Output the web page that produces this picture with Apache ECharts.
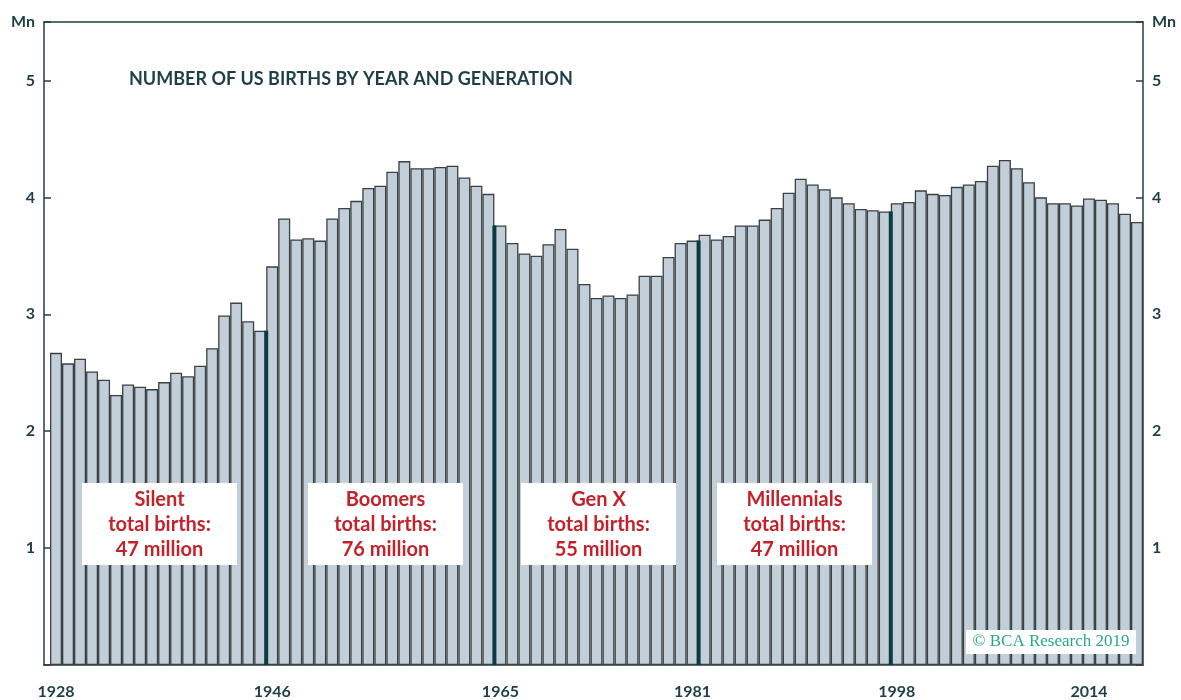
<!DOCTYPE html>
<html>
<head>
<meta charset="utf-8">
<script src="https://cdn.jsdelivr.net/npm/echarts@6/dist/echarts.min.js"></script>
<style>
  html, body { margin: 0; padding: 0; background: #fff; }
  #main { width: 1181px; height: 700px; }
</style>
</head>
<body>
<div id="main"></div>
<script>
// US births, millions, 1928-2018
var years = [];
for (var y = 1928; y <= 2018; y++) { years.push(y); }
var births = [
  2.67, 2.58, 2.62, 2.51, 2.44, 2.31, 2.40, 2.38, 2.36, 2.42,
  2.50, 2.47, 2.56, 2.71, 2.99, 3.10, 2.94, 2.86, 3.41, 3.82,
  3.64, 3.65, 3.63, 3.82, 3.91, 3.97, 4.08, 4.10, 4.22, 4.31,
  4.25, 4.25, 4.26, 4.27, 4.17, 4.10, 4.03, 3.76, 3.61, 3.52,
  3.50, 3.60, 3.73, 3.56, 3.26, 3.14, 3.16, 3.14, 3.17, 3.33,
  3.33, 3.49, 3.61, 3.63, 3.68, 3.64, 3.67, 3.76, 3.76, 3.81,
  3.91, 4.04, 4.16, 4.11, 4.07, 4.00, 3.95, 3.90, 3.89, 3.88,
  3.95, 3.96, 4.06, 4.03, 4.02, 4.09, 4.11, 4.14, 4.27, 4.32,
  4.25, 4.13, 4.00, 3.95, 3.95, 3.93, 3.99, 3.98, 3.95, 3.86,
  3.79
];
var labelYears = [1928, 1946, 1965, 1981, 1998, 2014];
// first year of the bar to the right of each generation divider
var dividerYears = [1946, 1965, 1982, 1998];
var boxTexts = [
  'Silent\ntotal births:\n47 million',
  'Boomers\ntotal births:\n76 million',
  'Gen X\ntotal births:\n55 million',
  'Millennials\ntotal births:\n47 million'
];

var ink = '#1f3f47';
var textFont = 'Lato, "Open Sans", sans-serif';

function birthsOf(yr) { return births[years.indexOf(yr)]; }

var dividers = dividerYears.map(function (yr) {
  return [yr - 0.5, Math.min(birthsOf(yr - 1), birthsOf(yr))];
});

var myChart = echarts.init(document.getElementById('main'));

var boxCenters = [159, 385, 598, 794];
var graphics = [{
  type: 'text', left: 129, top: 70, silent: true, z: 100,
  style: { text: 'NUMBER OF US BIRTHS BY YEAR AND GENERATION', fill: ink,
    font: 'bold 18px ' + textFont }
}];
boxTexts.forEach(function (t, i) {
  graphics.push({
    type: 'group', x: boxCenters[i] - 77, y: 483, silent: true, z: 100,
    children: [
      { type: 'rect', z: 100, shape: { x: 0, y: 0, width: 155, height: 82 }, style: { fill: '#fff' } },
      { type: 'text', z: 101, x: 77.5, y: 42,
        style: { text: t, fill: '#c4222b', font: 'bold 20px ' + textFont,
          align: 'center', verticalAlign: 'middle', lineHeight: 25 } }
    ]
  });
});
graphics.push({
  type: 'group', x: 966, y: 630, silent: true, z: 100,
  children: [
    { type: 'rect', z: 100, shape: { x: 0, y: 0, width: 170, height: 24 }, style: { fill: '#fff' } },
    { type: 'text', z: 101, x: 85, y: 12,
      style: { text: '\u00a9 BCA Research 2019', fill: '#2aa784',
        font: '17px "Liberation Serif", "DejaVu Serif", serif',
        align: 'center', verticalAlign: 'middle' } }
  ]
});

var yAxisBase = function (pos) {
  return {
    type: 'value', position: pos, min: 0, max: 5.5, interval: 1,
    axisLine: { show: true, lineStyle: { color: ink, width: 1.5 } },
    axisTick: { show: true, inside: true, length: 7, lineStyle: { color: ink, width: 1.5 } },
    splitLine: { show: false },
    axisLabel: {
      show: true, margin: 9, showMaxLabel: true, showMinLabel: true,
      color: ink, fontFamily: textFont, fontWeight: 'bold', fontSize: 16,
      formatter: function (v) {
        if (v === 0) return '';
        if (v === 5.5) return 'Mn';
        return v;
      }
    }
  };
};

var option = {
  animation: false,
  backgroundColor: '#fff',
  grid: { left: 44, right: 38, top: 22, bottom: 35, containLabel: false },
  graphic: graphics,
  xAxis: [{
    type: 'value', min: 1927, max: 2018.5, interval: 1,
    axisLine: { show: true, onZero: false, lineStyle: { color: ink, width: 1.5 } },
    axisTick: { show: false },
    splitLine: { show: false },
    axisLabel: {
      margin: 19, color: ink, fontFamily: textFont, fontWeight: 'bold', fontSize: 16,
      showMinLabel: true, showMaxLabel: true,
      formatter: function (v) { return labelYears.indexOf(v) >= 0 ? String(v) : ''; }
    }
  }, {
    type: 'value', position: 'top', min: 1927, max: 2018.5,
    axisLine: { show: true, onZero: false, lineStyle: { color: ink, width: 1.5 } },
    axisTick: { show: false }, axisLabel: { show: false }, splitLine: { show: false }
  }],
  yAxis: [yAxisBase('left'), yAxisBase('right')],
  series: [{
    name: 'Births',
    type: 'bar',
    xAxisIndex: 0, yAxisIndex: 0,
    barWidth: 12,
    silent: true,
    data: years.map(function (yr, i) { return [yr, births[i]]; }),
    itemStyle: { color: '#c2cfd8', borderColor: '#3a4043', borderWidth: 1.3 }
  }, {
    name: 'Generations',
    type: 'custom',
    xAxisIndex: 0, yAxisIndex: 0,
    silent: true,
    z: 3,
    data: dividers,
    renderItem: function (params, api) {
      var top = api.coord([api.value(0), api.value(1)]);
      var bot = api.coord([api.value(0), 0]);
      return {
        type: 'line',
        shape: { x1: top[0], y1: top[1], x2: bot[0], y2: bot[1] },
        style: { stroke: '#0b3a40', lineWidth: 4 }
      };
    }
  }]
};
myChart.setOption(option);
</script>
</body>
</html>
